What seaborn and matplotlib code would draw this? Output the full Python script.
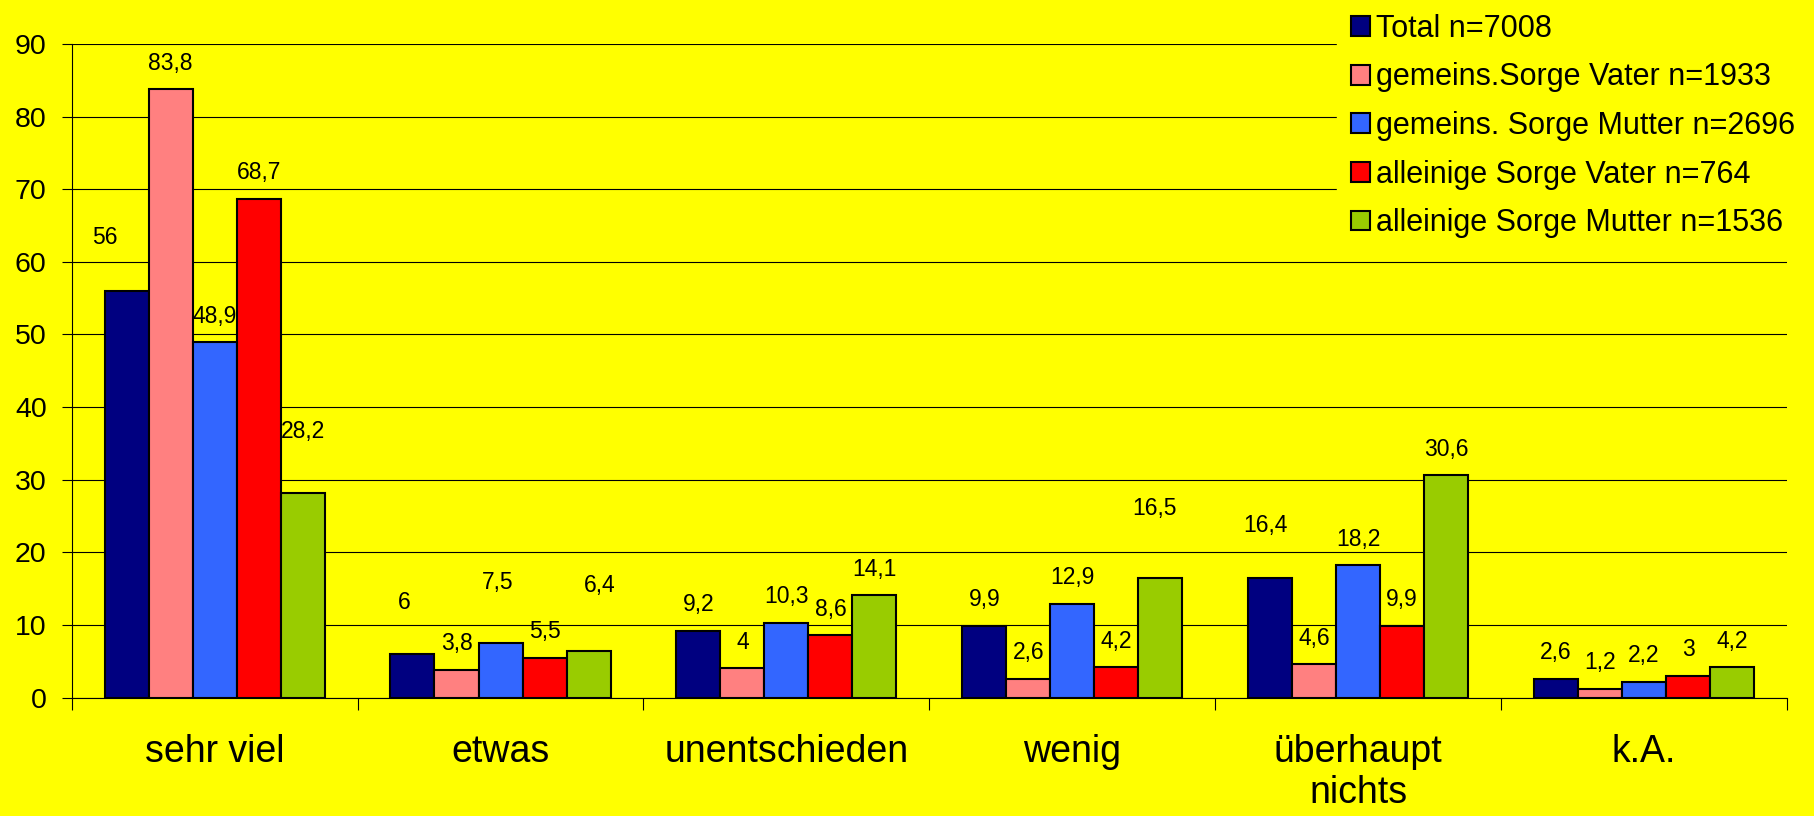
import numpy as np
import pandas as pd
import seaborn as sns
import matplotlib.pyplot as plt

# Answer categories (x axis)
categories = ["sehr viel", "etwas", "unentschieden", "wenig", "überhaupt\nnichts", "k.A."]

# Groups (legend entries)
groups = [
    "Total n=7008",
    "gemeins.Sorge Vater n=1933",
    "gemeins. Sorge Mutter n=2696",
    "alleinige Sorge Vater n=764",
    "alleinige Sorge Mutter n=1536",
]

# Percentages per group
total = [56, 6, 9.2, 9.9, 16.4, 2.6]
gem_vater = [83.8, 3.8, 4, 2.6, 4.6, 1.2]
gem_mutter = [48.9, 7.5, 10.3, 12.9, 18.2, 2.2]
allein_vater = [68.7, 5.5, 8.6, 4.2, 9.9, 3]
allein_mutter = [28.2, 6.4, 14.1, 16.5, 30.6, 4.2]

y_ticks = [0, 10, 20, 30, 40, 50, 60, 70, 80, 90]

series_values = [total, gem_vater, gem_mutter, allein_vater, allein_mutter]
colors = ["#000080", "#FF8080", "#3366FF", "#FF0000", "#99CC00"]
BG = "#FFFF00"

# Hand-placed value labels: (group index, category index) -> extra (dx, dy) in pixels
label_nudge = {
    (0, 0): (-22, 27),
    (4, 0): (0, 35),
    (0, 1): (-8, 25),
    (2, 1): (-3, 35),
    (4, 1): (11, 40),
    (4, 3): (-6, 43),
    (0, 4): (-5, 27),
}

df = pd.DataFrame(
    [
        {"Kategorie": c, "Gruppe": g, "Prozent": v}
        for g, vals in zip(groups, series_values)
        for c, v in zip(categories, vals)
    ]
)

plt.rcParams["font.family"] = ["Liberation Sans", "DejaVu Sans"]

fig = plt.figure(figsize=(18.15, 8.16), dpi=100, facecolor=BG)
ax = fig.add_axes([0.0395, 0.1452, 0.9451, 0.8008])
ax.set_facecolor(BG)

sns.barplot(
    data=df, x="Kategorie", y="Prozent", hue="Gruppe",
    order=categories, hue_order=groups, palette=colors,
    width=0.77, saturation=1, edgecolor="black", linewidth=1.5,
    ax=ax, legend=True,
)

# Value labels above the bars, German decimal comma
for gi, cont in enumerate(ax.containers):
    for ci, bar in enumerate(cont):
        v = series_values[gi][ci]
        txt = f"{v:g}".replace(".", ",")
        dx, dy = label_nudge.get((gi, ci), (0, 0))
        ax.annotate(
            txt,
            xy=(bar.get_x() + bar.get_width() / 2, bar.get_height()),
            xytext=(dx, 26 + dy), textcoords="offset pixels",
            ha="center", va="center", fontsize=16.5, color="black",
            annotation_clip=False,
        )

# Axes styling
ax.set_ylim(0, 90)
ax.set_yticks(y_ticks)
ax.set_xlim(-0.5, len(categories) - 0.5)
ax.set_axisbelow(True)
ax.yaxis.grid(True, color="black", linewidth=0.8)
ax.xaxis.grid(False)

# Category separators as major ticks, names on minor ticks at the centres
ax.set_xticks(np.arange(-0.5, len(categories), 1.0), labels=[""] * (len(categories) + 1))
ax.set_xticks(np.arange(len(categories)), minor=True)
ax.set_xticklabels(categories, minor=True)
ax.tick_params(axis="x", which="major", length=8.6, width=0.8, direction="out", color="black")
ax.tick_params(axis="x", which="minor", length=0, pad=26, labelsize=27)
ax.tick_params(axis="y", length=7.5, width=0.8, pad=10.5, labelsize=20.5, direction="out")

for side in ("top", "right"):
    ax.spines[side].set_visible(False)
for side in ("left", "bottom"):
    ax.spines[side].set_color("black")
    ax.spines[side].set_linewidth(0.8)

ax.set_xlabel("")
ax.set_ylabel("")

handles, labels = ax.get_legend_handles_labels()
ax.legend(
    handles, labels,
    loc="upper left", bbox_to_anchor=(1337 / 1815, 1.0), bbox_transform=fig.transFigure,
    fontsize=22, frameon=True, facecolor=BG, edgecolor=BG, framealpha=1, fancybox=False,
    handlelength=0.62, handleheight=0.62, handletextpad=0.2, labelspacing=0.61,
    borderpad=0.45, borderaxespad=0,
)

fig.savefig("out.png", dpi=100, facecolor=BG)
